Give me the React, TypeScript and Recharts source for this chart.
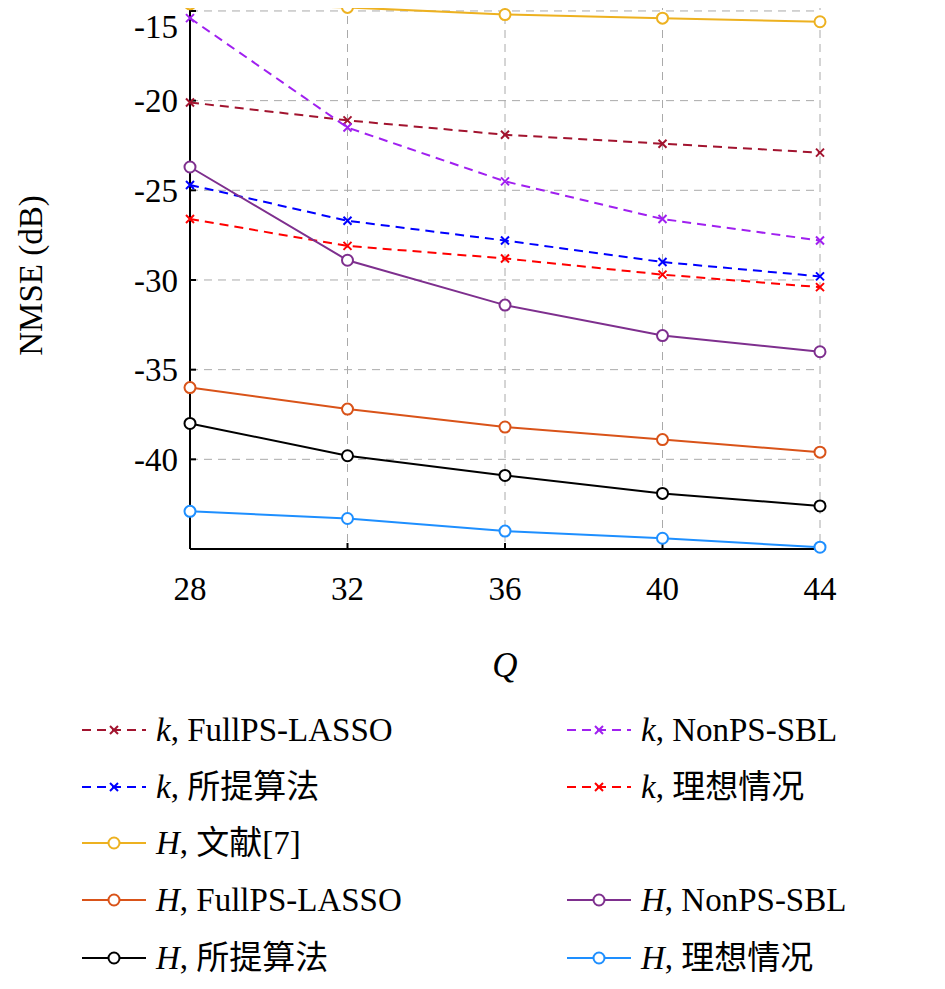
import React from "react";
import { LineChart, Line, XAxis, YAxis, CartesianGrid } from "recharts";

const qValues = [28, 32, 36, 40, 44];
const yTicks = [-40, -35, -30, -25, -20, -15];

const kFullPS = [-20.1, -21.1, -21.9, -22.4, -22.9];
const kNonPS = [-15.4, -21.5, -24.5, -26.6, -27.8];
const kProposed = [-24.7, -26.7, -27.8, -29.0, -29.8];
const kIdeal = [-26.6, -28.1, -28.8, -29.7, -30.4];
const hRef7 = [-14.6, -14.8, -15.2, -15.4, -15.6];
const hFullPS = [-36.0, -37.2, -38.2, -38.9, -39.6];
const hNonPS = [-23.7, -28.9, -31.4, -33.1, -34.0];
const hProposed = [-38.0, -39.8, -40.9, -41.9, -42.6];
const hIdeal = [-42.9, -43.3, -44.0, -44.4, -44.9];

const series = [
  { key: "kFullPS", values: kFullPS, color: "#A2142F", kind: "k", name: "FullPS-LASSO" },
  { key: "kNonPS", values: kNonPS, color: "#A020F0", kind: "k", name: "NonPS-SBL" },
  { key: "kProposed", values: kProposed, color: "#0000FF", kind: "k", name: "所提算法" },
  { key: "kIdeal", values: kIdeal, color: "#FF0000", kind: "k", name: "理想情况" },
  { key: "hRef7", values: hRef7, color: "#EDB120", kind: "H", name: "文献[7]" },
  { key: "hFullPS", values: hFullPS, color: "#D95319", kind: "H", name: "FullPS-LASSO" },
  { key: "hNonPS", values: hNonPS, color: "#7E2F8E", kind: "H", name: "NonPS-SBL" },
  { key: "hProposed", values: hProposed, color: "#000000", kind: "H", name: "所提算法" },
  { key: "hIdeal", values: hIdeal, color: "#1E8FFF", kind: "H", name: "理想情况" },
];

const data = qValues.map((q, i) => {
  const row: Record<string, number> = { q };
  series.forEach((s) => (row[s.key] = s.values[i]));
  return row;
});

const serif = "'Liberation Serif', 'DejaVu Serif', serif";
const cjk = "'Liberation Serif', 'Noto Sans CJK SC', serif";

const crossDot = (color: string) => (p: any) => (
  <g key={p.index}>
    <path
      d={`M${p.cx - 4},${p.cy - 4}L${p.cx + 4},${p.cy + 4}M${p.cx - 4},${p.cy + 4}L${p.cx + 4},${p.cy - 4}`}
      stroke={color}
      strokeWidth={2}
    />
  </g>
);
const circleDot = (color: string) => (p: any) => (
  <circle key={p.index} cx={p.cx} cy={p.cy} r={5.5} fill="white" stroke={color} strokeWidth={2} />
);

const LegendItem = ({ s, x, y }: { s: any; x: number; y: number }) => (
  <div style={{ position: "absolute", left: x, top: y - 20, height: 40, display: "flex", alignItems: "center" }}>
    <svg width={68} height={20}>
      <line x1={2} y1={10} x2={66} y2={10} stroke={s.color} strokeWidth={2} strokeDasharray={s.kind === "k" ? "9 6" : undefined} />
      {s.kind === "k" ? (
        <path d="M30,6L38,14M30,14L38,6" stroke={s.color} strokeWidth={2} />
      ) : (
        <circle cx={34} cy={10} r={5.5} fill="white" stroke={s.color} strokeWidth={2} />
      )}
    </svg>
    <span style={{ fontFamily: cjk, fontSize: 33, lineHeight: "40px", height: 40, marginLeft: 8, whiteSpace: "nowrap" }}>
      <i>{s.kind}</i>, {s.name}
    </span>
  </div>
);

export default function App() {
  const legendLayout: [string, number, number][] = [
    ["kFullPS", 72, 722],
    ["kNonPS", 557, 722],
    ["kProposed", 72, 779],
    ["kIdeal", 557, 779],
    ["hRef7", 72, 835],
    ["hFullPS", 72, 892],
    ["hNonPS", 557, 892],
    ["hProposed", 72, 950],
    ["hIdeal", 557, 950],
  ];
  return (
    <div style={{ position: "relative", width: 929, height: 975 }}>
      <LineChart width={929} height={690} data={data} margin={{ top: -6, right: 117, bottom: 19, left: 0 }}>
        <CartesianGrid stroke="#aaaaaa" strokeDasharray="8 6" />
        <XAxis
          dataKey="q"
          type="number"
          domain={[28, 44]}
          ticks={qValues}
          stroke="#000"
          strokeWidth={2}
          tickSize={-6}
          tickMargin={34}
          height={130}
          tick={{ fontFamily: serif, fontSize: 33, fill: "#000" }}
          label={{ value: "Q", position: "insideBottom", offset: 2, style: { fontFamily: serif, fontSize: 35, fontStyle: "italic", fill: "#000" } }}
        />
        <XAxis xAxisId="top" orientation="top" dataKey="q" type="number" domain={[28, 44]} ticks={qValues} tick={false} tickSize={0} height={0} stroke="#000" strokeWidth={2} />
        <YAxis
          type="number"
          domain={[-45, -14.5]}
          ticks={yTicks}
          stroke="#000"
          strokeWidth={2}
          tickSize={-6}
          tickMargin={18}
          width={182}
          tickFormatter={(v) => String(v)}
          tick={{ fontFamily: serif, fontSize: 33, fill: "#000" }}
          label={{ value: "NMSE (dB)", angle: -90, position: "insideLeft", offset: 22, style: { fontFamily: serif, fontSize: 33, fill: "#000", textAnchor: "middle" } }}
        />
        <YAxis yAxisId="right" orientation="right" domain={[-45, -14.5]} ticks={yTicks} tick={false} tickSize={0} width={0} stroke="#000" strokeWidth={2} />
        {series.map((s) => (
          <Line
            key={s.key}
            dataKey={s.key}
            stroke={s.color}
            strokeWidth={2}
            strokeDasharray={s.kind === "k" ? "9 6" : undefined}
            dot={s.kind === "k" ? crossDot(s.color) : circleDot(s.color)}
            isAnimationActive={false}
          />
        ))}
      </LineChart>
      {legendLayout.map(([k, x, y]) => (
        <LegendItem key={k} s={series.find((s) => s.key === k)} x={x} y={y} />
      ))}
    </div>
  );
}
